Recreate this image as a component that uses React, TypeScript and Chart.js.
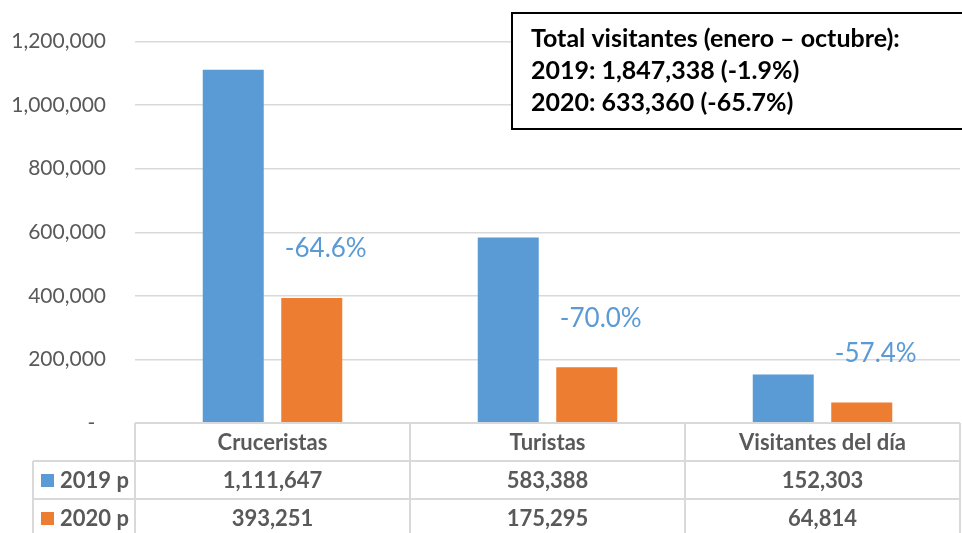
import React, { useEffect, useRef } from 'react';
import { Chart, registerables } from 'chart.js';

Chart.register(...registerables);

const categories = ['Cruceristas', 'Turistas', 'Visitantes del día'];
const seriesNames = ['2019 p', '2020 p'];
const values2019 = [1111647, 583388, 152303];
const values2020 = [393251, 175295, 64814];
const changeLabels = ['-64.6%', '-70.0%', '-57.4%'];
const totalLines = [
  'Total visitantes (enero – octubre):',
  '2019: 1,847,338 (-1.9%)',
  '2020: 633,360 (-65.7%)',
];
const yMax = 1200000;
const yStep = 200000;

const colors = ['#5B9BD5', '#ED7D31'];
const FONT = 'Lato, "Open Sans", "Liberation Sans", sans-serif';
const fmt = (v: number) => v.toLocaleString('en-US');

const tablePlugin = {
  id: 'dataTable',
  afterDraw(chart: any) {
    const { ctx, chartArea } = chart;
    const xs = chart.scales.x;
    const left = chartArea.left;
    const right = chartArea.right;
    const top = chartArea.bottom;
    const bottom = chart.height;
    const rowH = 38;
    const legendLeft = 33;
    const n = categories.length;
    const colW = (right - left) / n;
    ctx.save();
    ctx.strokeStyle = '#d9d9d9';
    ctx.lineWidth = 2;
    const line = (x1: number, y1: number, x2: number, y2: number) => {
      ctx.beginPath();
      ctx.moveTo(x1, y1);
      ctx.lineTo(x2, y2);
      ctx.stroke();
    };
    line(left, top, right, top);
    line(legendLeft, top + rowH, right, top + rowH);
    line(legendLeft, top + 2 * rowH, right, top + 2 * rowH);
    for (let i = 0; i <= n; i++) {
      const xx = left + i * colW;
      line(xx, top, xx, bottom);
    }
    line(legendLeft, top + rowH, legendLeft, bottom);

    ctx.fillStyle = '#595959';
    ctx.font = `bold 22px ${FONT}`;
    ctx.textAlign = 'center';
    ctx.textBaseline = 'middle';
    categories.forEach((c, i) => ctx.fillText(c, xs.getPixelForValue(i), top + rowH / 2 + 1));
    const rows = [values2019, values2020];
    rows.forEach((vals, r) => {
      const cy = top + rowH * (r + 1) + rowH / 2 + 1;
      ctx.textAlign = 'center';
      ctx.fillStyle = '#595959';
      vals.forEach((v, i) => ctx.fillText(fmt(v), xs.getPixelForValue(i), cy));
      ctx.fillStyle = colors[r];
      ctx.fillRect(41, cy - 7, 13, 13);
      ctx.fillStyle = '#595959';
      ctx.textAlign = 'left';
      ctx.fillText(seriesNames[r], 60, cy);
    });
    ctx.restore();
  },
};

const annotationPlugin = {
  id: 'annotations',
  afterDraw(chart: any) {
    const { ctx } = chart;
    ctx.save();
    const meta = chart.getDatasetMeta(1);
    ctx.fillStyle = '#5B9BD5';
    ctx.font = `26px ${FONT}`;
    ctx.textAlign = 'center';
    ctx.textBaseline = 'middle';
    meta.data.forEach((bar: any, i: number) => {
      ctx.fillText(changeLabels[i], bar.x + 14, bar.y - 49);
    });
    // total box
    ctx.fillStyle = '#ffffff';
    ctx.fillRect(512, 13, 460, 116);
    ctx.strokeStyle = '#000000';
    ctx.lineWidth = 2;
    ctx.strokeRect(512, 13, 460, 116);
    ctx.fillStyle = '#000000';
    ctx.font = `bold 25px ${FONT}`;
    ctx.textAlign = 'left';
    totalLines.forEach((t, i) => ctx.fillText(t, 531, 39 + i * 32));
    ctx.restore();
  },
};

export default function App() {
  const ref = useRef<HTMLCanvasElement>(null);
  useEffect(() => {
    if (!ref.current) return;
    const chart = new Chart(ref.current, {
      type: 'bar',
      data: {
        labels: categories,
        datasets: [
          { label: seriesNames[0], data: values2019, backgroundColor: colors[0] },
          { label: seriesNames[1], data: values2020, backgroundColor: colors[1] },
        ],
      },
      options: {
        responsive: false,
        animation: false,
        devicePixelRatio: 1,
        layout: { padding: { left: 0, right: 2, top: 40, bottom: 110 } },
        datasets: { bar: { categoryPercentage: 0.571, barPercentage: 0.777 } },
        plugins: { legend: { display: false }, tooltip: { enabled: false } },
        scales: {
          x: { display: false },
          y: {
            min: 0,
            max: yMax,
            border: { display: false },
            grid: { color: '#d9d9d9', lineWidth: 1.5, drawTicks: false },
            afterFit: (s: any) => { s.width = 135; },
            ticks: {
              stepSize: yStep,
              padding: 29,
              color: '#595959',
              font: { family: FONT, size: 21 },
              callback: (v: any) => (v === 0 ? '-  ' : fmt(Number(v))),
            },
          },
        },
      },
      plugins: [tablePlugin, annotationPlugin],
    });
    return () => chart.destroy();
  }, []);
  return (
    <div style={{ position: 'absolute', left: 0, top: 0, width: 962, height: 533, background: '#fff' }}>
      <canvas ref={ref} width={962} height={533} />
    </div>
  );
}
